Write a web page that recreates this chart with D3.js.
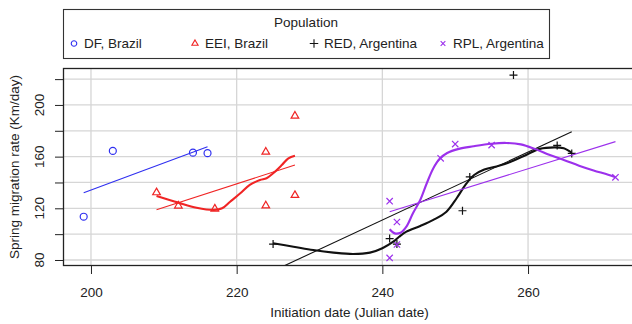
<!DOCTYPE html>
<html>
<head>
<meta charset="utf-8">
<script src="https://cdn.jsdelivr.net/npm/d3@7"></script>
<style>
  body { margin: 0; background: #fff; }
  svg { display: block; font-family: "Liberation Sans", Arial, sans-serif; }
</style>
</head>
<body>
<svg id="chart" width="632" height="324"></svg>
<script>
// populations
var populations = ["DF, Brazil", "EEI, Brazil", "RED, Argentina", "RPL, Argentina"];

// observed points (Julian date, km/day)
var dfDate = [199, 203, 214, 216];
var dfRate = [113.5, 164.4, 163.1, 162.7];
var eeiDate = [209, 212, 217, 224, 224, 228, 228];
var eeiRate = [132.2, 121.9, 119.6, 163.6, 122.0, 191.5, 130.1];
var redDate = [225, 241, 242, 251, 252, 258, 264, 266];
var redRate = [92.3, 96.6, 92.3, 118.1, 144.3, 223.1, 168.7, 162.5];
var rplDate = [241, 241, 242, 242, 248, 250, 255, 272];
var rplRate = [125.5, 81.6, 109.4, 92.0, 158.7, 169.7, 168.9, 144.0];

// linear fits (end points)
var dfFitDate = [199, 216], dfFitRate = [132.1, 167.7];
var eeiFitDate = [209, 228], eeiFitRate = [118.9, 153.5];
var redFitDate = [225, 266], redFitRate = [71.5, 179.3];
var rplFitDate = [241, 272], rplFitRate = [117.4, 171.6];

// smoothed curves
var eeiSmoothDate = [209, 212, 214.5, 216.9, 218, 219.1, 220.5, 221.8, 223.2, 224.1, 225, 226.2, 227.1, 228];
var eeiSmoothRate = [129.5, 124.4, 120.5, 118.8, 120, 125.1, 131.6, 138.1, 141.9, 143.3, 147.1, 153.5, 158.7, 160.7];
var redSmoothDate = [225, 227.8, 230.5, 233.3, 236, 238.3, 240, 241.5, 242.3, 243.3, 245.2, 247, 248.8, 250.2, 251.4, 252.6, 254, 256, 257.7, 259.8, 261.6, 263.6, 264.9, 266];
var redSmoothRate = [92.9, 90.3, 87.7, 85.7, 84.6, 85.7, 89.1, 94.2, 98, 101.9, 106.3, 111, 117.4, 127.8, 138.1, 145.8, 150, 153, 156.2, 161.5, 166, 167.2, 166.5, 163];
var rplSmoothDate = [241, 241.7, 242.5, 243.3, 244.2, 245.2, 246.1, 247, 247.9, 248.9, 250.5, 252.5, 255, 257, 259, 261, 263, 265, 267, 269, 271, 272];
var rplSmoothRate = [103.8, 100.6, 101.1, 105.8, 116.2, 126.4, 139.4, 151, 158.5, 162.8, 166, 168, 170, 170.6, 169.5, 165.8, 161.2, 157.2, 153, 149.3, 146, 144];

// axes
var xTicks = [200, 220, 240, 260];
var yTicks = [80, 100, 120, 140, 160, 180, 200, 220];
var yTickLabels = [80, 120, 160, 200];

var colors = ["#2f2ff0", "#f02424", "#111111", "#9c30ec"];

// stroke-only marker shapes
var markCircle = { draw: function (c, s) { var r = Math.sqrt(s / Math.PI); c.moveTo(r, 0); c.arc(0, 0, r, 0, 2 * Math.PI); } };
var markTriangle = { draw: function (c, s) { var h = Math.sqrt(s) * 0.68, u = h * Math.sqrt(3) / 2; c.moveTo(0, -h); c.lineTo(u, h / 2); c.lineTo(-u, h / 2); c.closePath(); } };
var markPlus = { draw: function (c, s) { var r = Math.sqrt(s) / 2; c.moveTo(-r, 0); c.lineTo(r, 0); c.moveTo(0, -r); c.lineTo(0, r); } };
var markTimes = { draw: function (c, s) { var r = Math.sqrt(s) / 2; c.moveTo(-r, -r); c.lineTo(r, r); c.moveTo(-r, r); c.lineTo(r, -r); } };

function zip(a, b) { return a.map(function (v, i) { return [v, b[i]]; }); }

var series = [
    { pts: zip(dfDate, dfRate), fit: zip(dfFitDate, dfFitRate), smooth: null, mark: markCircle, size: 38, legSize: 24 },
    { pts: zip(eeiDate, eeiRate), fit: zip(eeiFitDate, eeiFitRate), smooth: zip(eeiSmoothDate, eeiSmoothRate), mark: markTriangle, size: 42, legSize: 28 },
    { pts: zip(redDate, redRate), fit: zip(redFitDate, redFitRate), smooth: zip(redSmoothDate, redSmoothRate), mark: markPlus, size: 64, legSize: 72 },
    { pts: zip(rplDate, rplRate), fit: zip(rplFitDate, rplFitRate), smooth: zip(rplSmoothDate, rplSmoothRate), mark: markTimes, size: 40, legSize: 22 }
];

var svg = d3.select("#chart");
var box = { left: 63, top: 68, right: 636, bottom: 266 };

var x = d3.scaleLinear().domain([196.16, 274.82]).range([box.left, box.right]);
var y = d3.scaleLinear().domain([75.35, 228.6]).range([box.bottom, box.top]);

svg.append("rect").attr("width", 632).attr("height", 324).attr("fill", "#fff");

svg.append("clipPath").attr("id", "plotclip")
    .append("rect")
    .attr("x", box.left).attr("y", box.top)
    .attr("width", box.right - box.left).attr("height", box.bottom - box.top);

// grid
var grid = svg.append("g").attr("stroke", "#d6d6d6").attr("stroke-width", 1.3);
grid.selectAll(".gy").data(yTicks).enter().append("line")
    .attr("x1", box.left).attr("x2", box.right)
    .attr("y1", function (d) { return y(d); }).attr("y2", function (d) { return y(d); });
grid.selectAll(".gx").data(xTicks).enter().append("line")
    .attr("y1", box.top).attr("y2", box.bottom)
    .attr("x1", function (d) { return x(d); }).attr("x2", function (d) { return x(d); });

// x axis
var xAxis = svg.append("g")
    .attr("transform", "translate(0," + box.bottom + ")")
    .call(d3.axisBottom(x).tickValues(xTicks).tickSize(8).tickPadding(13).tickFormat(d3.format("d")));
xAxis.select(".domain").remove();
xAxis.selectAll("line").attr("stroke", "#222");
xAxis.selectAll("text").attr("font-size", "13.5px").attr("fill", "#222").attr("font-family", null);

// y axis
var yAxis = svg.append("g")
    .attr("transform", "translate(" + box.left + ",0)")
    .call(d3.axisLeft(y).tickValues(yTicks).tickSize(8).tickFormat(""));
yAxis.select(".domain").remove();
yAxis.selectAll("line").attr("stroke", "#222");

svg.append("g").selectAll("text").data(yTickLabels).enter().append("text")
    .attr("transform", function (d) { return "translate(44," + y(d) + ") rotate(-90)"; })
    .attr("text-anchor", "middle")
    .attr("font-size", "13.5px").attr("fill", "#222")
    .text(function (d) { return d; });

svg.append("text")
    .attr("x", (box.left + box.right) / 2).attr("y", 317)
    .attr("text-anchor", "middle").attr("font-size", "13.5px").attr("fill", "#222")
    .text("Initiation date (Julian date)");

svg.append("text")
    .attr("transform", "translate(19," + (box.top + box.bottom) / 2 + ") rotate(-90)")
    .attr("text-anchor", "middle").attr("font-size", "13.5px").attr("fill", "#222")
    .text("Spring migration rate (Km/day)");

// marks
var plot = svg.append("g").attr("clip-path", "url(#plotclip)");
var fitLine = d3.line().x(function (d) { return x(d[0]); }).y(function (d) { return y(d[1]); });
var smoothLine = d3.line().x(function (d) { return x(d[0]); }).y(function (d) { return y(d[1]); })
    .curve(d3.curveCatmullRom.alpha(0.5));

series.forEach(function (s, i) {
    plot.append("g").selectAll("path").data(s.pts).enter().append("path")
        .attr("transform", function (d) { return "translate(" + x(d[0]) + "," + y(d[1]) + ")"; })
        .attr("d", d3.symbol(s.mark, s.size))
        .attr("fill", "none").attr("stroke", colors[i]).attr("stroke-width", 1.2);
});
series.forEach(function (s, i) {
    plot.append("path").datum(s.fit).attr("d", fitLine)
        .attr("fill", "none").attr("stroke", colors[i]).attr("stroke-width", 1.1);
    if (s.smooth) {
        plot.append("path").datum(s.smooth).attr("d", smoothLine)
            .attr("fill", "none").attr("stroke", colors[i]).attr("stroke-width", 2.1);
    }
});

// plot box
svg.append("rect")
    .attr("x", box.left + 0.5).attr("y", box.top + 0.5)
    .attr("width", box.right - box.left).attr("height", box.bottom - box.top - 1)
    .attr("fill", "none").attr("stroke", "#222").attr("stroke-width", 1.3);

// legend
var legX = [74, 195, 314, 443];
var leg = svg.append("g");
leg.append("rect").attr("x", 63.5).attr("y", 9.5).attr("width", 486).attr("height", 49)
    .attr("fill", "#fff").attr("stroke", "#333").attr("stroke-width", 1.1);
leg.append("text").attr("x", 306).attr("y", 26.5).attr("text-anchor", "middle")
    .attr("font-size", "13.5px").attr("fill", "#222").text("Population");
var items = leg.selectAll(".item").data(populations).enter().append("g")
    .attr("transform", function (d, i) { return "translate(" + legX[i] + ",43.5)"; });
items.append("path")
    .attr("d", function (d, i) { return d3.symbol(series[i].mark, series[i].legSize)(); })
    .attr("fill", "none").attr("stroke", function (d, i) { return colors[i]; }).attr("stroke-width", 1.1);
items.append("text").attr("x", 10).attr("y", 4.8)
    .attr("font-size", "13.5px").attr("fill", "#222")
    .text(function (d) { return d; });
</script>
</body>
</html>
